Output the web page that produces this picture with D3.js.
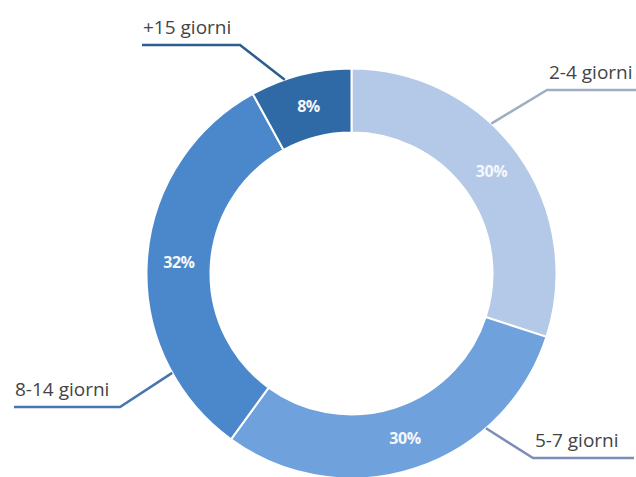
<!DOCTYPE html>
<html>
<head>
<meta charset="utf-8">
<script src="https://cdn.jsdelivr.net/npm/d3@7"></script>
<style>
  body { margin: 0; background: #fff; }
  svg { display: block; }
</style>
</head>
<body>
<div id="chart"></div>
<script>
// data
const categories = ["2-4 giorni", "5-7 giorni", "8-14 giorni", "+15 giorni"];
const values = [30, 30, 32, 8];
const sliceColors = ["#b4c8e8", "#6fa1dd", "#4a87cb", "#2f6aa6"];
const lineColors = ["#a0aec4", "#7d8db6", "#4676ab", "#2e5e8e"];

var width = 636, height = 477;
var cx = 351.5, cy = 273.5, outerR = 205, innerR = 141;

// callout layout: angle on the ring where the leader starts, elbow point, end of underline
var callouts = [
    { angle: 43, elbow: [547, 90], end: [640, 90], anchor: "start" },
    { angle: 139, elbow: [533, 458], end: [634, 458], anchor: "start" },
    { angle: 241, elbow: [120, 407], end: [14, 407], anchor: "end" },
    { angle: 341, elbow: [240, 45], end: [142, 45], anchor: "end" }
];

var svg = d3.select('#chart')
            .append('svg')
            .attr('width', width)
            .attr('height', height);

var pie = d3.pie().sort(null).value(d => d);
var arcs = pie(values);

var arc = d3.arc().innerRadius(innerR).outerRadius(outerR);
var labelArc = d3.arc().innerRadius((innerR + outerR) / 2).outerRadius((innerR + outerR) / 2);

var g = svg.append('g').attr('transform', `translate(${cx}, ${cy})`);

g.selectAll('path.slice')
    .data(arcs)
    .enter()
    .append('path')
    .attr('class', 'slice')
    .attr('d', arc)
    .attr('fill', (d, i) => sliceColors[i])
    .attr('stroke', '#ffffff')
    .attr('stroke-width', 2);

// percentage labels inside the ring
g.selectAll('text.pct')
    .data(arcs)
    .enter()
    .append('text')
    .attr('class', 'pct')
    .attr('transform', d => `translate(${labelArc.centroid(d)})`)
    .attr('text-anchor', 'middle')
    .attr('dy', '0.35em')
    .style('font-family', '"Open Sans", sans-serif')
    .style('font-weight', 'bold')
    .style('font-size', '16px')
    .style('letter-spacing', '-0.5px')
    .style('fill', '#f4f7fc')
    .text(d => d.data + '%');

// leader lines with category names
callouts.forEach(function(c, i) {
    var a = c.angle * Math.PI / 180;
    var sx = cx + outerR * Math.sin(a), sy = cy - outerR * Math.cos(a);
    svg.append('polyline')
        .attr('points', [[sx, sy], c.elbow, c.end].map(p => p.join(',')).join(' '))
        .attr('fill', 'none')
        .attr('stroke', lineColors[i])
        .attr('stroke-width', 2.5);

    var tx = c.anchor === 'start' ? c.elbow[0] + 2 : c.end[0] + 1;
    svg.append('text')
        .attr('x', tx)
        .attr('y', c.elbow[1] - 11)
        .attr('text-anchor', 'start')
        .style('font-family', '"Open Sans", sans-serif')
        .style('font-size', '19px')
        .style('fill', '#444444')
        .text(categories[i]);
});
</script>
</body>
</html>
